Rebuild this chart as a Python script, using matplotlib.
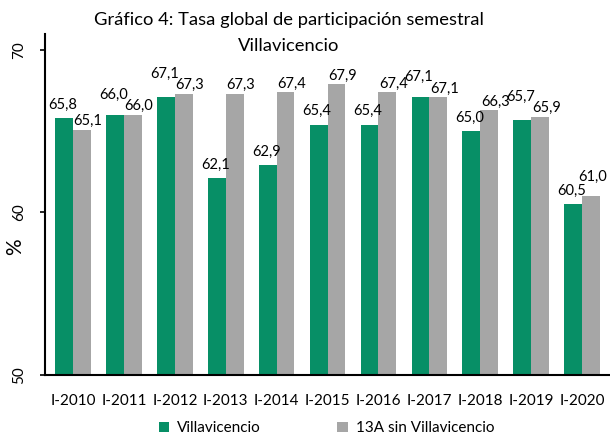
import matplotlib
matplotlib.use("Agg")
import matplotlib.pyplot as plt
import numpy as np

plt.rcParams['font.family'] = ['Lato', 'DejaVu Sans']

categories = ["I-2010", "I-2011", "I-2012", "I-2013", "I-2014", "I-2015",
              "I-2016", "I-2017", "I-2018", "I-2019", "I-2020"]
villavicencio = [65.8, 66.0, 67.1, 62.1, 62.9, 65.4, 65.4, 67.1, 65.0, 65.7, 60.5]
trece_a = [65.1, 66.0, 67.3, 67.3, 67.4, 67.9, 67.4, 67.1, 66.3, 65.9, 61.0]
series_names = ["Villavicencio", "13A sin Villavicencio"]
colors = ["#078f66", "#a6a6a6"]

fig = plt.figure(figsize=(6.1, 4.38), dpi=100)
ax = fig.add_axes([0.074, 0.144, 0.926, 0.779])

x = np.arange(len(categories))
w = 0.35
b1 = ax.bar(x - w/2, villavicencio, w, color=colors[0], label=series_names[0])
b2 = ax.bar(x + w/2, trece_a, w, color=colors[1], label=series_names[1])

xmax = len(categories) - 0.45
fmt = lambda v: f"{v:.1f}".replace('.', ',')
green_y = []
for xi, v, g in zip(x, villavicencio, trece_a):
    y = v + 0.4
    if 0 <= g - v <= 0.3:
        y = max(y, g + 0.8)
    green_y.append(y)
    ax.text(xi - w/2 - 0.03, y, fmt(v), ha='center', va='bottom', fontsize=10.5)
for xi, v, gy in zip(x, trece_a, green_y):
    xt = xi + w/2 + 0.12
    y = v + 0.1
    if xt > xmax - 0.3:
        xt = xi + w/2 + 0.04
        y = max(y, gy + 0.85)
    ax.text(xt, y, fmt(v), ha='center', va='bottom', fontsize=10.5, clip_on=False)

ax.set_ylim(50, 71)
ax.set_xlim(-0.55, xmax)
ax.set_yticks([50, 60, 70])
ax.set_yticklabels(["50", "60", "70"], rotation=90, va='center', fontsize=11)
ax.set_xticks(x)
ax.set_xticklabels(categories, fontsize=11)
ax.tick_params(axis='x', length=0, pad=14)
ax.tick_params(axis='y', length=3.6, width=1.2, pad=10)
ax.set_ylabel("%", fontsize=15, va='center', ha='center')
ax.yaxis.set_label_coords(-0.053, 0.375)
for s in ['top', 'right']:
    ax.spines[s].set_visible(False)
ax.spines['left'].set_linewidth(1.5)
ax.spines['bottom'].set_linewidth(1.5)

fig.text(0.473, 0.955, "Gráfico 4: Tasa global de participación semestral", ha='center', va='center', fontsize=13.2)
fig.text(0.473, 0.895, "Villavicencio", ha='center', va='center', fontsize=13.2)

fig.legend(handles=[b1, b2], labels=series_names, loc='center', bbox_to_anchor=(0.535, 0.022),
           ncol=2, frameon=False, fontsize=11, handlelength=0.7, handleheight=0.7,
           columnspacing=5, handletextpad=0.5)

fig.savefig("out.png", dpi=100)
